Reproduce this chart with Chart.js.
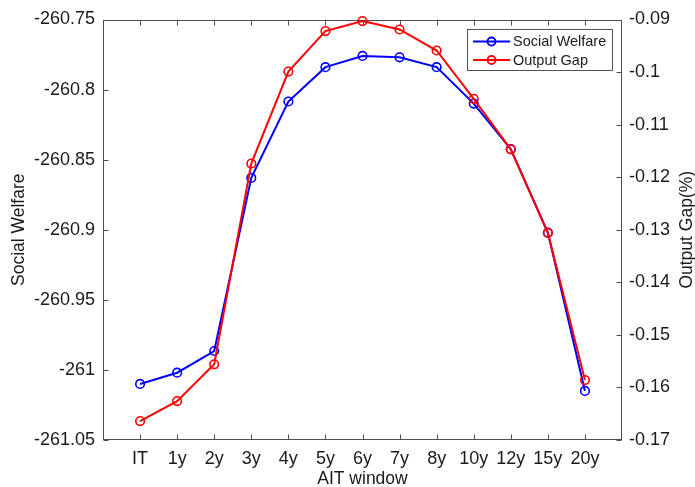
<!DOCTYPE html>
<html>
<head>
<meta charset="utf-8">
<script src="https://cdn.jsdelivr.net/npm/chart.js@4.4.1/dist/chart.umd.min.js"></script>
<style>
  html, body { margin: 0; padding: 0; background: #fff; }
  #wrap { width: 695px; height: 487px; }
</style>
</head>
<body>
<div id="wrap"><canvas id="chart"></canvas></div>
<script>
// AIT window categories
const windows = ["IT", "1y", "2y", "3y", "4y", "5y", "6y", "7y", "8y", "10y", "12y", "15y", "20y"];

// left axis: social welfare
const socialWelfare = [-261.010, -261.002, -260.9865, -260.863, -260.8085, -260.784, -260.776,
    -260.777, -260.784, -260.810, -260.8425, -260.902, -261.015];

// right axis: output gap (%)
const outputGap = [-0.1664, -0.1626, -0.1556, -0.1174, -0.0999, -0.0922, -0.0903,
    -0.0919, -0.0959, -0.1051, -0.1147, -0.1306, -0.1586];

const welfareTicks = [-261.05, -261, -260.95, -260.9, -260.85, -260.8, -260.75];
const gapTicks = [-0.17, -0.16, -0.15, -0.14, -0.13, -0.12, -0.11, -0.1, -0.09];

const FONT = "'Liberation Sans', Arial, Helvetica, sans-serif";
const INK = "#1a1a1a";
const AXIS = "#4d4d4d";

const toPoints = (vals) => vals.map((v, i) => ({ x: i + 1, y: v }));

// MATLAB-like box, inward ticks, legend and right label
const matlabFrame = {
    id: "matlabFrame",
    beforeDatasetsDraw(chart) {
        const { ctx, chartArea: a, scales } = chart;
        const L = Math.round(a.left) + 0.5, R = Math.round(a.right) - 0.5;
        const T = Math.round(a.top) + 0.5, B = Math.round(a.bottom) - 0.5;
        const len = 5;
        ctx.save();
        ctx.strokeStyle = AXIS;
        ctx.lineWidth = 1;
        ctx.strokeRect(L, T, R - L, B - T);
        ctx.beginPath();
        windows.forEach((w, i) => {
            const px = Math.round(scales.x.getPixelForValue(i + 1)) + 0.5;
            ctx.moveTo(px, B); ctx.lineTo(px, B - len);
            ctx.moveTo(px, T); ctx.lineTo(px, T + len);
        });
        welfareTicks.forEach(v => {
            const py = Math.round(scales.y.getPixelForValue(v)) + 0.5;
            ctx.moveTo(L, py); ctx.lineTo(L + len, py);
        });
        gapTicks.forEach(v => {
            const py = Math.round(scales.y1.getPixelForValue(v)) + 0.5;
            ctx.moveTo(R, py); ctx.lineTo(R - len, py);
        });
        ctx.stroke();
        ctx.restore();
    },
    afterDraw(chart) {
        const { ctx, chartArea: a } = chart;
        ctx.save();
        // right axis label, reading bottom to top
        ctx.fillStyle = INK;
        ctx.font = "17.5px " + FONT;
        ctx.translate(692, (a.top + a.bottom) / 2);
        ctx.rotate(-Math.PI / 2);
        ctx.textAlign = "center";
        ctx.textBaseline = "alphabetic";
        ctx.fillText("Output Gap(%)", 0, 0);
        ctx.restore();

        // legend
        ctx.save();
        const bx = 467.5, by = 29.5, bw = 145, bh = 41;
        ctx.fillStyle = "#fff";
        ctx.fillRect(bx, by, bw, bh);
        ctx.strokeStyle = "#262626";
        ctx.lineWidth = 0.8;
        ctx.strokeRect(bx, by, bw, bh);
        ctx.font = "14.5px " + FONT;
        ctx.textBaseline = "middle";
        ctx.textAlign = "left";
        const rows = [41.5, 60];
        chart.data.datasets.forEach((ds, i) => {
            const y = rows[i];
            ctx.strokeStyle = ds.borderColor;
            ctx.lineWidth = 1.8;
            ctx.beginPath();
            ctx.moveTo(473, y); ctx.lineTo(510, y);
            ctx.stroke();
            ctx.beginPath();
            ctx.arc(491.5, y, 4, 0, Math.PI * 2);
            ctx.stroke();
            ctx.fillStyle = INK;
            ctx.fillText(ds.label, 513, y + 0.5);
        });
        ctx.restore();
    }
};

new Chart(document.getElementById("chart"), {
    type: "line",
    data: {
        datasets: [
            {
                label: "Social Welfare",
                data: toPoints(socialWelfare),
                yAxisID: "y",
                borderColor: "#0000ff",
                backgroundColor: "#0000ff",
                borderWidth: 2,
                pointRadius: 4.3,
                pointBorderWidth: 1.6,
                pointBackgroundColor: "rgba(0,0,0,0)",
                pointBorderColor: "#0000ff",
                tension: 0,
                clip: false,
                order: 1
            },
            {
                label: "Output Gap",
                data: toPoints(outputGap),
                yAxisID: "y1",
                borderColor: "#ff0000",
                backgroundColor: "#ff0000",
                borderWidth: 2,
                pointRadius: 4.3,
                pointBorderWidth: 1.6,
                pointBackgroundColor: "rgba(0,0,0,0)",
                pointBorderColor: "#ff0000",
                tension: 0,
                clip: false,
                order: 0
            }
        ]
    },
    options: {
        responsive: true,
        maintainAspectRatio: false,
        animation: false,
        layout: { padding: { top: 19.5, right: 0, bottom: 0, left: 0 } },
        plugins: {
            legend: { display: false },
            tooltip: { enabled: false }
        },
        scales: {
            x: {
                type: "linear",
                min: 0,
                max: windows.length + 1,
                afterBuildTicks(scale) {
                    scale.ticks = windows.map((w, i) => ({ value: i + 1 }));
                },
                afterFit(scale) { scale.height = 47; },
                grid: { display: false, drawTicks: false },
                border: { display: false },
                ticks: {
                    autoSkip: false,
                    maxRotation: 0,
                    padding: 8,
                    color: INK,
                    font: { family: FONT, size: 18 },
                    callback: (v) => windows[v - 1] || ""
                },
                title: {
                    display: true,
                    text: "AIT window",
                    color: INK,
                    font: { family: FONT, size: 17.5, lineHeight: 1 },
                    padding: { top: 0, bottom: -0.7 }
                }
            },
            y: {
                position: "left",
                min: -261.05,
                max: -260.75,
                afterBuildTicks(scale) {
                    scale.ticks = welfareTicks.map(v => ({ value: v }));
                },
                afterFit(scale) { scale.width = 103; },
                grid: { display: false, drawTicks: false },
                border: { display: false },
                ticks: {
                    padding: 8,
                    color: INK,
                    font: { family: FONT, size: 18 },
                    callback: (v) => String(Number(v.toFixed(2)))
                },
                title: {
                    display: true,
                    text: "Social Welfare",
                    color: INK,
                    font: { family: FONT, size: 17.5, lineHeight: 1 },
                    padding: { top: 10.5, bottom: 0 }
                }
            },
            y1: {
                position: "right",
                min: -0.17,
                max: -0.09,
                afterBuildTicks(scale) {
                    scale.ticks = gapTicks.map(v => ({ value: v }));
                },
                afterFit(scale) { scale.width = 73; },
                grid: { display: false, drawTicks: false },
                border: { display: false },
                ticks: {
                    padding: 7,
                    color: INK,
                    font: { family: FONT, size: 18 },
                    callback: (v) => String(Number(v.toFixed(2)))
                }
            }
        }
    },
    plugins: [matlabFrame]
});
</script>
</body>
</html>
